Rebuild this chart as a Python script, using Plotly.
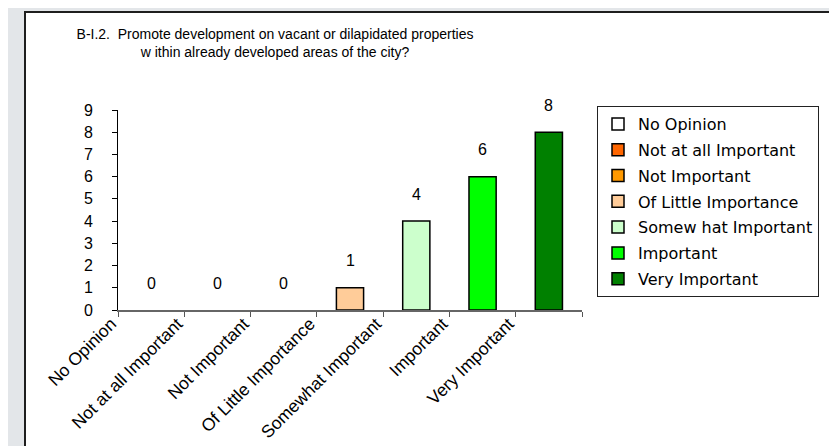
import plotly.graph_objects as go

categories = ["No Opinion", "Not at all Important", "Not Important", "Of Little Importance",
              "Somewhat Important", "Important", "Very Important"]
legend_names = ["No Opinion", "Not at all Important", "Not Important", "Of Little Importance",
                "Somew hat Important", "Important", "Very Important"]
values = [0, 0, 0, 1, 4, 6, 8]
colors = ["#FFFFFF", "#FF6600", "#FF9900", "#FFCC99", "#CCFFCC", "#00FF00", "#008000"]
y_ticks = [0, 1, 2, 3, 4, 5, 6, 7, 8, 9]
title_text = "B-I.2.  Promote development on vacant or dilapidated properties<br>w ithin already developed areas of the city?"

W, H = 837, 446
L, R, T, B = 110, 263, 102, 144
pw, ph = W - L - R, H - T - B

fig = go.Figure()
for i, (cat, name, val, col) in enumerate(zip(categories, legend_names, values, colors)):
    fig.add_trace(go.Bar(
        x=[cat], y=[val if val > 0 else None], name=name, legendgroup=f"g{i}",
        marker=dict(color=col, line=dict(color="#000000", width=1.5)),
        width=0.41, hoverinfo="x+y",
    ))

for cat, val in zip(categories, values):
    fig.add_annotation(x=cat, y=val, text=str(val), showarrow=False, yshift=27,
                       xref="x", yref="y",
                       font=dict(family="Liberation Sans, Arial", size=16, color="#000000"))

def px_x(p):
    return (p - L) / pw

def px_y(p):
    return (H - B - p) / ph

fig.add_shape(type="rect", xref="paper", yref="paper", layer="below",
              x0=px_x(17), x1=px_x(900), y0=px_y(520), y1=px_y(4),
              fillcolor="#FFFFFF", line=dict(color="#1e1e1e", width=2))

fig.update_layout(
    width=W, height=H,
    margin=dict(l=L, r=R, t=T, b=B, autoexpand=False),
    paper_bgcolor="#E3E6E9",
    plot_bgcolor="#FFFFFF",
    barmode="overlay",
    title=dict(text=title_text, x=267 / W, xref="container", xanchor="center",
               y=1 - 31 / H, yref="container", yanchor="middle",
               font=dict(family="Liberation Sans, Arial", size=14, color="#000000")),
    legend=dict(x=px_x(589), y=px_y(98), xanchor="left", yanchor="top",
                xref="paper", yref="paper",
                bgcolor="#FFFFFF", bordercolor="#222222", borderwidth=1,
                tracegroupgap=2,
                font=dict(family="DejaVu Sans", size=16, color="#000000")),
    xaxis=dict(type="category", categoryorder="array", categoryarray=categories,
               tickson="boundaries", ticks="outside", ticklen=5, tickcolor="#555555",
               showline=True, linecolor="#666666", linewidth=1.5, showgrid=False,
               tickangle=-45, ticklabelshift=-40, ticklabelstandoff=-5,
               tickfont=dict(family="Liberation Sans, Arial", size=17.5, color="#000000")),
    yaxis=dict(range=[0, 9], tickvals=y_ticks, ticks="outside", ticklen=5,
               tickcolor="#000000", showline=True, linecolor="#000000", linewidth=1,
               showgrid=False, zeroline=False, ticklabelstandoff=16,
               tickfont=dict(family="Liberation Sans, Arial", size=16, color="#000000")),
    showlegend=True,
)

fig.write_html("out.html")
